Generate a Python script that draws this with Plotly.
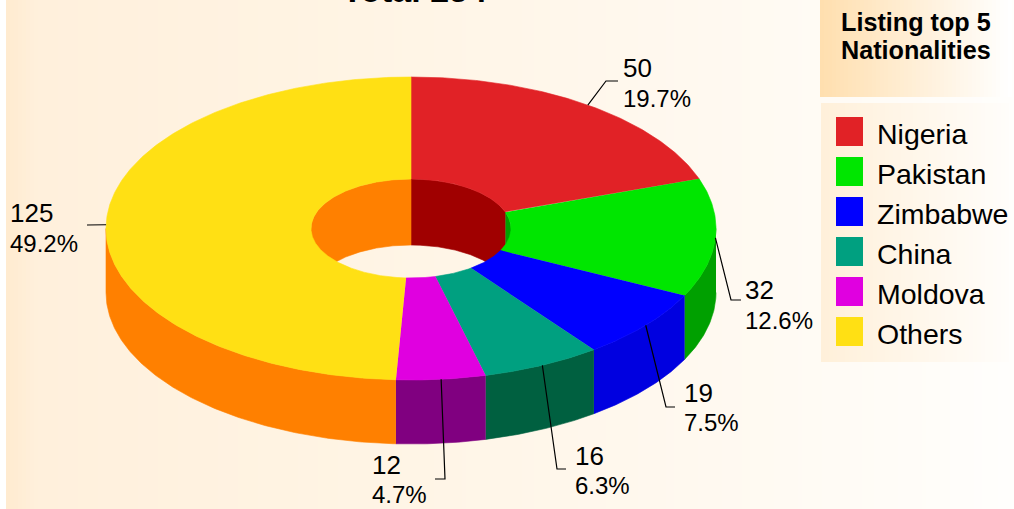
import numpy as np
import plotly.graph_objects as go

# ---- data ----
categories = ["Nigeria", "Pakistan", "Zimbabwe", "China", "Moldova", "Others"]
values = [50, 32, 19, 16, 12, 125]
percent_labels = ["19.7%", "12.6%", "7.5%", "6.3%", "4.7%", "49.2%"]
top_colors = ["#E12226", "#00E600", "#0000FF", "#00A080", "#E000E0", "#FFE014"]
side_colors = ["#A00000", "#00A000", "#0000E0", "#006040", "#800080", "#FF8000"]
title_text = "Total 254"
legend_title = ["Listing top 5", "Nationalities"]

# ---- layout constants (pixels) ----
W, H = 1014, 509
CX, CY = 411, 228.5
RX, RY = 305, 151.5
IRX, IRY = 100, 49.5
DEPTH = 64
FONT = "Liberation Sans"
# leader elbow, leader end, text x, value-line y, percent-line y
label_layout = [
    ((606, 81), (618, 81), 623, 68, 98),
    ((731, 300), (741, 300), 745, 290, 320),
    ((666, 407), (675, 407), 684, 393, 422),
    ((557, 469), (566, 469), 575, 456, 485),
    ((445, 479), (435, 479), 372, 465, 494),
    ((87, 225), (87, 225), 10, 213, 243),
]

total = sum(values)
bounds = 2 * np.pi * np.concatenate([[0], np.cumsum(values)]) / total


def ell(theta, rx, ry, dy=0.0):
    return CX + rx * np.sin(theta), CY - ry * np.cos(theta) + dy


def arc(a, b):
    n = max(2, int(abs(b - a) / 0.01))
    return np.linspace(a, b, n)


def poly(xs, ys, color):
    return go.Scatter(x=xs, y=ys, mode="lines", fill="toself", fillcolor=color,
                      line=dict(color=color, width=0.6), hoverinfo="skip", showlegend=False)


def gradient(x0, x1, y0, y1, c0, c1):
    edges = np.arange(x0, x1 + 1, 4)
    z = [np.linspace(0, 1, len(edges) - 1).tolist()]
    return go.Heatmap(x=edges, y=[y0, y1], z=z, zmin=0, zmax=1,
                      colorscale=c0 if isinstance(c0, list) else [[0, c0], [1, c1]],
                      showscale=False, hoverinfo="skip")


fig = go.Figure()
fig.add_trace(gradient(6, 1014, 0, 509,
                       [[0, "#FFEBD0"], [0.03, "#FFF0DC"], [0.35, "#FFF4E4"], [0.7, "#FFF9F0"], [1, "#FFFEFC"]], None))
fig.add_trace(gradient(820, 1014, 0, 97, "#FFDFAF", "#FFFFFF"))
fig.add_trace(gradient(821, 1011, 103, 362, "#FFF0DA", "#FFFDFA"))

# inner wall: the back half of the hole
for i in range(len(values)):
    a, b = bounds[i], bounds[i + 1]
    for lo, hi in ((-np.pi / 2, np.pi / 2), (1.5 * np.pi, 2.5 * np.pi)):
        s, e = max(a, lo), min(b, hi)
        if e > s:
            t = arc(s, e)
            x1, y1 = ell(t, IRX, IRY)
            x2, y2 = ell(t[::-1], IRX, IRY, DEPTH + 2)
            fig.add_trace(poly(np.r_[x1, x2], np.r_[y1, y2], side_colors[i]))

# outer wall: the front half of the rim
for i in range(len(values)):
    s, e = max(bounds[i], np.pi / 2), min(bounds[i + 1], 1.5 * np.pi)
    if e > s:
        t = arc(s, e)
        x1, y1 = ell(t, RX, RY)
        x2, y2 = ell(t[::-1], RX, RY, DEPTH)
        fig.add_trace(poly(np.r_[x1, x2], np.r_[y1, y2], side_colors[i]))

# top face
for i in range(len(values)):
    t = arc(bounds[i], bounds[i + 1])
    x1, y1 = ell(t, RX, RY)
    x2, y2 = ell(t[::-1], IRX, IRY)
    fig.add_trace(poly(np.r_[x1, x2], np.r_[y1, y2], top_colors[i]))

annotations = []


def text(x, y, s, size, bold=False, xanchor="left", yanchor="middle"):
    annotations.append(dict(x=x, y=y, xref="x", yref="y", text=f"<b>{s}</b>" if bold else s,
                            showarrow=False, xanchor=xanchor, yanchor=yanchor, borderpad=0, borderwidth=0,
                            font=dict(family=FONT, size=size, color="#000000")))


# leaders and labels
for i, (elbow, end, tx, vy, py) in enumerate(label_layout):
    mid = (bounds[i] + bounds[i + 1]) / 2
    sx, sy = ell(mid, RX, RY)
    fig.add_trace(go.Scatter(x=[sx, elbow[0], end[0]], y=[sy, elbow[1], end[1]], mode="lines",
                             line=dict(color="#000000", width=1.2), hoverinfo="skip", showlegend=False))
    text(tx, vy, str(values[i]), 26)
    text(tx, py, percent_labels[i], 24)

# legend
shapes = []
for i, name in enumerate(categories):
    y0 = 117 + 40 * i
    shapes.append(dict(type="rect", xref="x", yref="y", x0=836, x1=863, y0=y0, y1=y0 + 29,
                       fillcolor=top_colors[i], line=dict(width=0)))
    text(877, y0 + 17, name, 28.5)
text(916, 22, legend_title[0], 25.2, bold=True, xanchor="center")
text(916, 50, legend_title[1], 25.2, bold=True, xanchor="center")
text(414, 9, title_text, 34, bold=True, xanchor="center", yanchor="bottom")

fig.update_layout(
    width=W, height=H, autosize=False, margin=dict(l=0, r=0, t=0, b=0, pad=0),
    paper_bgcolor="#FFFFFF", plot_bgcolor="#FFFFFF", showlegend=False,
    xaxis=dict(range=[0, W], visible=False, fixedrange=True),
    yaxis=dict(range=[H, 0], visible=False, fixedrange=True),
    annotations=annotations, shapes=shapes,
)
fig.write_html("out.html", config={"displayModeBar": False},
               post_script="document.body.style.margin='0';document.body.style.overflow='hidden';")
